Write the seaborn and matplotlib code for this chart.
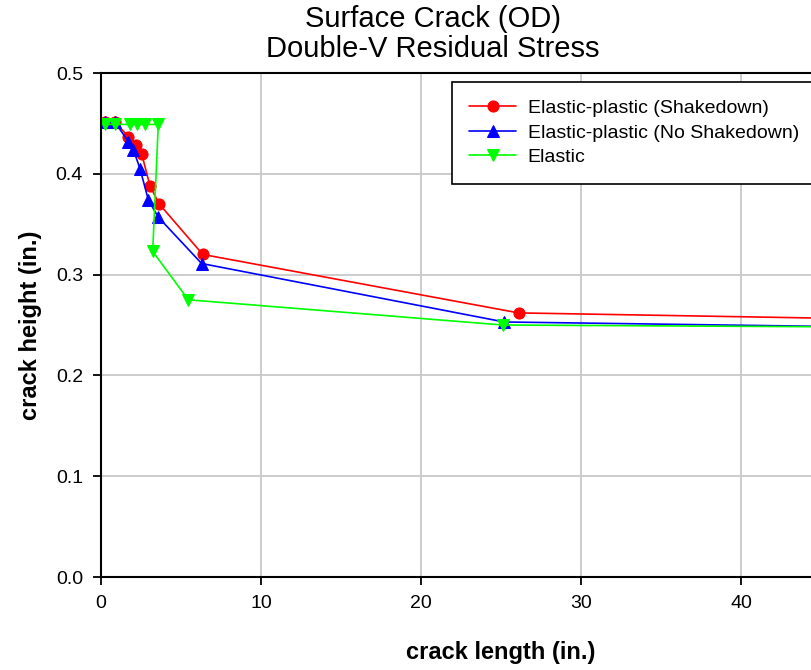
import numpy as np
import pandas as pd
import matplotlib
matplotlib.use("Agg")
import matplotlib.pyplot as plt
import seaborn as sns

# values
shakedown_x = [0.25, 0.88, 1.71, 2.19, 2.54, 3.06, 3.64, 6.36, 26.1, 48.0]
shakedown_y = [0.451, 0.451, 0.437, 0.429, 0.420, 0.388, 0.370, 0.320, 0.262, 0.256]

noshake_x = [0.25, 0.88, 1.71, 2.02, 2.44, 2.96, 3.58, 6.29, 25.2, 48.0]
noshake_y = [0.451, 0.451, 0.432, 0.424, 0.405, 0.374, 0.357, 0.311, 0.253, 0.248]

elastic_x = [0.25, 0.88, 1.81, 2.23, 2.75, 3.58, 3.23, 5.46, 25.1, 48.0]
elastic_y = [0.449, 0.449, 0.449, 0.449, 0.449, 0.449, 0.323, 0.275, 0.250, 0.248]

labels = ["Elastic-plastic (Shakedown)", "Elastic-plastic (No Shakedown)", "Elastic"]
colors = ["#ff0000", "#0000ff", "#00ff00"]
markers = ["o", "^", "v"]

sns.set_style("white")
plt.rcParams["font.family"] = ["Liberation Sans", "DejaVu Sans"]
plt.rcParams["text.color"] = "black"
plt.rcParams["axes.labelcolor"] = "black"
plt.rcParams["xtick.color"] = "black"
plt.rcParams["ytick.color"] = "black"

fig = plt.figure(figsize=(8.12, 6.70), dpi=100)
ax = fig.add_axes([101 / 812, 93 / 670, 800 / 812, 504 / 670])

series = [(shakedown_x, shakedown_y), (noshake_x, noshake_y), (elastic_x, elastic_y)]
for (xs, ys), lab, col, mk in zip(series, labels, colors, markers):
    df = pd.DataFrame({"x": xs, "y": ys})
    sns.lineplot(data=df, x="x", y="y", sort=False, estimator=None, ax=ax,
                 color=col, marker=mk, markersize=8, markeredgecolor=col,
                 linewidth=1.2, label=lab)

ax.set_xlim(0, 50)
ax.set_ylim(0, 0.5)
ax.set_xticks(np.arange(0, 41, 10))
ax.set_yticks(np.arange(0, 0.51, 0.1))
ax.yaxis.set_major_formatter(matplotlib.ticker.FormatStrFormatter("%.1f"))
ax.grid(True, color="#c8c8c8", linewidth=1.3)
ax.set_axisbelow(True)
for s in ax.spines.values():
    s.set_color("black")
    s.set_linewidth(1.5)
ax.tick_params(axis="both", direction="out", length=6, width=1.3,
               labelsize=14, pad=7, left=True, bottom=True)

ax.set_xlabel("crack length (in.)", fontsize=17, fontweight="bold", labelpad=21)
ax.set_ylabel("crack height (in.)", fontsize=17, fontweight="bold", labelpad=10)
fig.text(433 / 812, 1 - 34 / 670, "Surface Crack (OD)\nDouble-V Residual Stress",
         fontsize=21, ha="center", va="center", linespacing=1.1)

leg = ax.legend(loc="upper left", bbox_to_anchor=(0.4385, 0.982), fontsize=14,
                frameon=True, fancybox=False, edgecolor="black", borderpad=0.9,
                handlelength=2.4, handletextpad=0.6, labelspacing=0.35,
                borderaxespad=0)
leg.get_frame().set_linewidth(1.2)
leg.get_frame().set_facecolor("white")
leg.get_frame().set_alpha(1)

fig.savefig("out.png", dpi=100)
